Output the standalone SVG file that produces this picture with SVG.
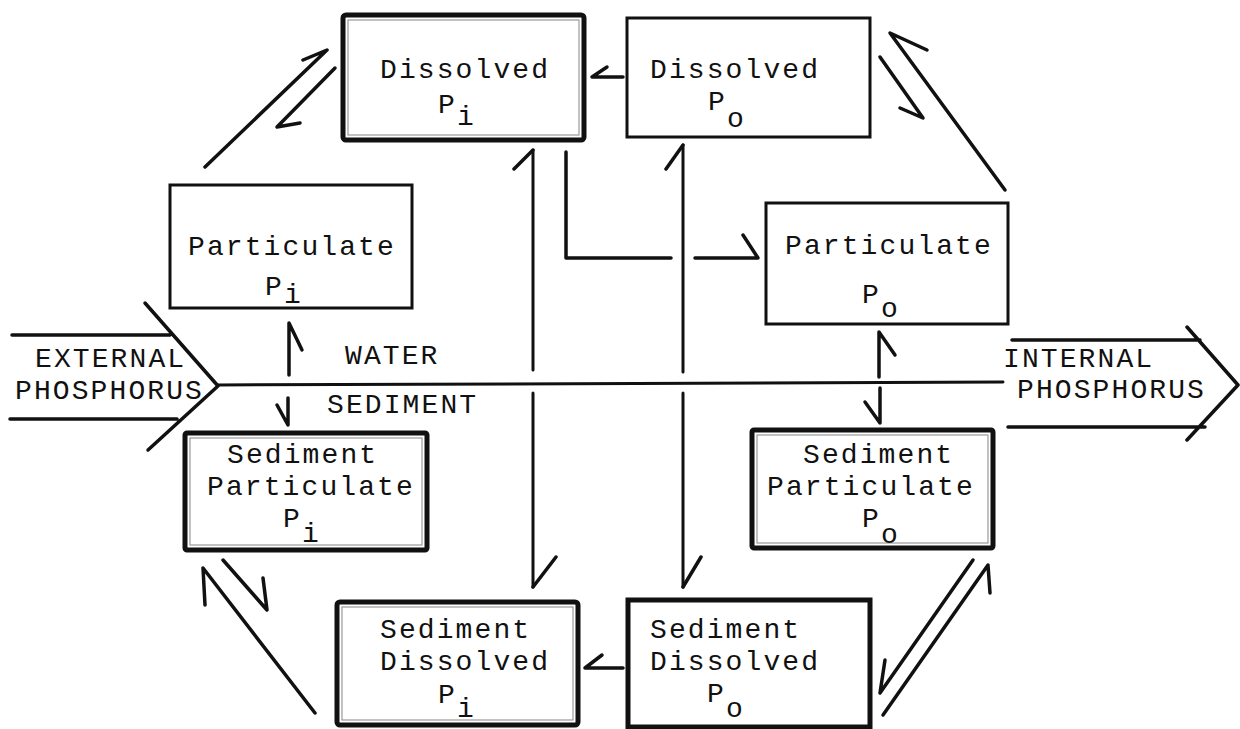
<svg xmlns="http://www.w3.org/2000/svg" width="1240" height="729" viewBox="0 0 1240 729">
<defs>
<style>
.box{fill:#fff;stroke:#111;stroke-width:3}
.thick{fill:#fff;stroke:#111;stroke-width:5}
.in{fill:none;stroke:#999;stroke-width:1.2}
.t{font-family:"Liberation Mono","DejaVu Sans Mono",monospace;font-size:28px;letter-spacing:2.1px;fill:#111}
.c{fill:none;stroke:#111;stroke-width:3.5;stroke-linecap:round;stroke-linejoin:round}
.d{fill:none;stroke:#111;stroke-width:3;stroke-linecap:round}
</style>
</defs>
<rect width="1240" height="729" fill="#fff"/>

<g id="connectors">
  <!-- water/sediment divider -->
  <path class="d" d="M218,385 L1003,382"/>
  <!-- external phosphorus arrow -->
  <path class="c" d="M12,335 L170,335 M10,419 L177,419 M145,303 L218,386 L148,450"/>
  <!-- internal phosphorus arrow -->
  <path class="c" d="M1012,340 L1200,340 M1008,427 L1205,427 M1187,327 L1238,385 L1187,440"/>
  <!-- top-left pair -->
  <path class="c" d="M205,167 L327,50 L303,60"/>
  <path class="c" d="M335,68 L277,127 L300,123"/>
  <!-- Dissolved Po to Dissolved Pi -->
  <path class="c" d="M623,77 L592,77 L607,67"/>
  <!-- top-right pair -->
  <path class="c" d="M1005,190 L890,33 L927,50"/>
  <path class="c" d="M880,57 L923,118 L900,108"/>
  <!-- vertical two-way arrows -->
  <path class="d" d="M533,150 L533,370 M533,393 L533,587"/>
  <path class="c" d="M514,169 L533,150 M533,587 L556,557"/>
  <path class="d" d="M683,145 L683,372 M683,393 L683,587"/>
  <path class="c" d="M666,169 L683,145 M683,587 L701,557"/>
  <!-- L-shaped arrow to Particulate Po -->
  <path class="c" d="M566,152 L566,258 L671,258 M695,258 L758,258 L743,235"/>
  <!-- Particulate Pi <-> Sediment Particulate Pi -->
  <path class="c" d="M289,375 L289,323 L302,350"/>
  <path class="c" d="M288,398 L288,425 L277,405"/>
  <!-- Particulate Po <-> Sediment Particulate Po -->
  <path class="c" d="M879,377 L879,332 L895,355"/>
  <path class="c" d="M880,388 L880,423 L865,402"/>
  <!-- bottom-left pair -->
  <path class="c" d="M223,560 L267,610 L263,578"/>
  <path class="c" d="M315,713 L203,568 L205,605"/>
  <!-- Sediment Dissolved Po to Sediment Dissolved Pi -->
  <path class="c" d="M623,668 L585,668 L602,655"/>
  <!-- bottom-right pair -->
  <path class="c" d="M973,560 L880,693 L885,660"/>
  <path class="c" d="M883,715 L988,565 L990,593"/>
</g>

<g id="labels">
  <text class="t" x="35" y="367">EXTERNAL</text>
  <text class="t" x="15" y="399">PHOSPHORUS</text>
  <text class="t" x="1003" y="367">INTERNAL</text>
  <text class="t" x="1017" y="398">PHOSPHORUS</text>
  <text class="t" x="345" y="364">WATER</text>
  <text class="t" x="327" y="413">SEDIMENT</text>
</g>

<g id="dissolved-pi">
  <rect class="thick" x="343" y="15" width="241" height="125" rx="3"/>
  <rect class="in" x="348" y="20" width="231" height="115"/>
  <text class="t" x="380" y="78">Dissolved</text>
  <text class="t" x="438" y="113">P<tspan dy="12">i</tspan></text>
</g>
<g id="dissolved-po">
  <rect class="box" x="627" y="18" width="243" height="119"/>
  <text class="t" x="650" y="78">Dissolved</text>
  <text class="t" x="708" y="110">P<tspan dy="17">o</tspan></text>
</g>
<g id="particulate-pi">
  <rect class="box" x="170" y="185" width="242" height="123"/>
  <text class="t" x="188" y="255">Particulate</text>
  <text class="t" x="265" y="295">P<tspan dy="8">i</tspan></text>
</g>
<g id="particulate-po">
  <rect class="box" x="766" y="203" width="242" height="121"/>
  <text class="t" x="785" y="254">Particulate</text>
  <text class="t" x="862" y="303">P<tspan dy="14">o</tspan></text>
</g>
<g id="sediment-particulate-pi">
  <rect class="thick" x="185" y="433" width="242" height="117" rx="2"/>
  <rect class="in" x="190" y="438" width="232" height="107"/>
  <text class="t" x="227" y="463">Sediment</text>
  <text class="t" x="207" y="495">Particulate</text>
  <text class="t" x="283" y="527">P<tspan dy="15">i</tspan></text>
</g>
<g id="sediment-particulate-po">
  <rect class="thick" x="752" y="430" width="241" height="118" rx="2"/>
  <rect class="in" x="757" y="435" width="231" height="108"/>
  <text class="t" x="803" y="463">Sediment</text>
  <text class="t" x="767" y="495">Particulate</text>
  <text class="t" x="862" y="527">P<tspan dy="16">o</tspan></text>
</g>
<g id="sediment-dissolved-pi">
  <rect class="thick" x="337" y="602" width="241" height="123" rx="3"/>
  <rect class="in" x="342" y="607" width="231" height="113"/>
  <text class="t" x="380" y="638">Sediment</text>
  <text class="t" x="380" y="670">Dissolved</text>
  <text class="t" x="438" y="703">P<tspan dy="14">i</tspan></text>
</g>
<g id="sediment-dissolved-po">
  <rect class="thick" x="628" y="600" width="242" height="127"/>
  <text class="t" x="650" y="638">Sediment</text>
  <text class="t" x="650" y="670">Dissolved</text>
  <text class="t" x="707" y="702">P<tspan dy="15">o</tspan></text>
</g>
</svg>
